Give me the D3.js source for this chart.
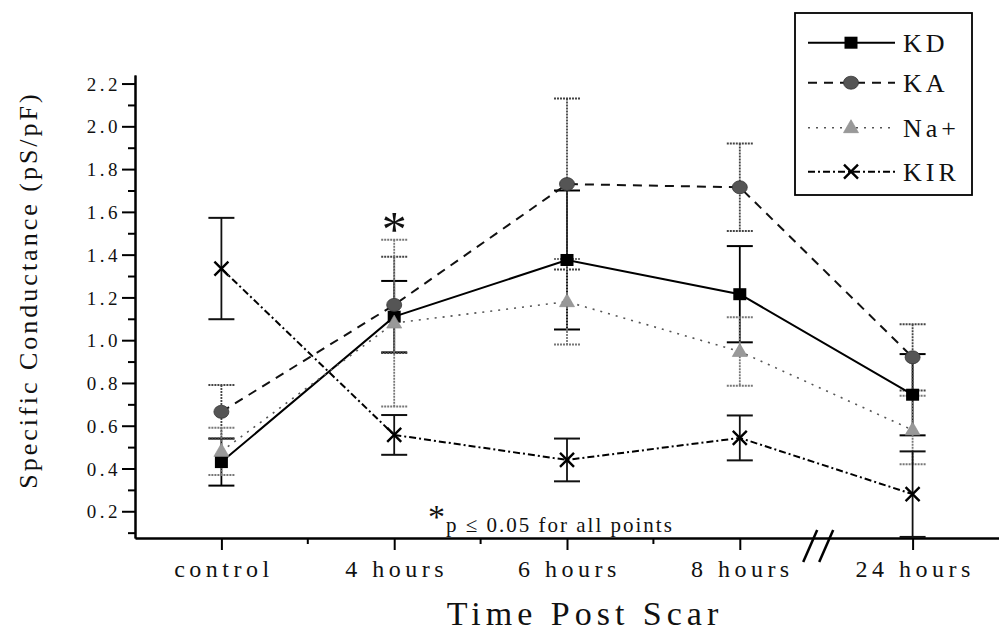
<!DOCTYPE html>
<html>
<head>
<meta charset="utf-8">
<script src="https://cdn.jsdelivr.net/npm/d3@7"></script>
<style>
  body { margin: 0; background: #fff; }
  svg text { font-family: "Liberation Serif", "DejaVu Serif", "Noto Serif", Times, serif; fill: #111; }
</style>
</head>
<body>
<svg id="chart" width="999" height="633"></svg>
<script>
// Data
const categories = ["control", "4 hours", "6 hours", "8 hours", "24 hours"];
const kdValues  = [0.43, 1.11, 1.375, 1.215, 0.745];
const kdErr     = [0.11, 0.167, 0.325, 0.225, 0.19];
const kaValues  = [0.665, 1.165, 1.73, 1.715, 0.92];
const kaErr     = [0.125, 0.225, 0.40, 0.205, 0.155];
const naValues  = [0.48, 1.08, 1.18, 0.947, 0.58];
const naErr     = [0.11, 0.39, 0.20, 0.16, 0.16];
const kirValues = [1.335, 0.557, 0.44, 0.543, 0.28];
const kirErr    = [0.237, 0.093, 0.10, 0.105, 0.20];
const yTicks = [0.2, 0.4, 0.6, 0.8, 1.0, 1.2, 1.4, 1.6, 1.8, 2.0, 2.2];
const yMinorTicks = [0.1, 0.3, 0.5, 0.7, 0.9, 1.1, 1.3, 1.5, 1.7, 1.9, 2.1];

const series = [
  { name: "KD",  values: kdValues,  err: kdErr,  dash: null,        lineColor: "#000", width: 2,   barColor: "#000", barDash: null,  marker: "square" },
  { name: "KA",  values: kaValues,  err: kaErr,  dash: "9,7",       lineColor: "#111", width: 2,   barColor: "#444", barDash: "2,1", marker: "circle" },
  { name: "Na+", values: naValues,  err: naErr,  dash: "2,6",       lineColor: "#555", width: 1.6, barColor: "#777", barDash: "2,1", marker: "triangle" },
  { name: "KIR", values: kirValues, err: kirErr, dash: "7,3,2,3",   lineColor: "#000", width: 2,   barColor: "#111", barDash: null,  marker: "cross" }
];

const serif = '"Liberation Serif", "DejaVu Serif", "Noto Serif", Times, serif';
const svg = d3.select("#chart");

// Scales
const x = d3.scalePoint().domain(categories).range([135, 999]).padding(0.5);
const y = d3.scaleLinear().domain([0.075, 2.24]).range([538, 75]);

// Y axis (major + minor ticks)
const yAxis = svg.append("g")
  .attr("transform", "translate(135,0)")
  .call(d3.axisLeft(y).tickValues(yTicks).tickSize(13).tickSizeOuter(0).tickPadding(4)
    .tickFormat(d3.format(".1f")));
svg.append("g")
  .attr("transform", "translate(135,0)")
  .call(d3.axisLeft(y).tickValues(yMinorTicks).tickSize(7).tickSizeOuter(0).tickFormat(""));
svg.selectAll("g .domain, g .tick line").attr("stroke", "#000").attr("stroke-width", 2);
yAxis.attr("font-family", serif);
yAxis.selectAll("text")
  .attr("font-size", 19)
  .attr("letter-spacing", 3.5)
  .attr("dy", "0.35em")
  .attr("dx", 3);

// X axis
const xAxis = svg.append("g")
  .attr("transform", "translate(0,538)")
  .call(d3.axisBottom(x).tickSize(12).tickSizeOuter(0).tickPadding(0));
xAxis.attr("font-family", serif);
xAxis.select(".domain").attr("stroke", "#000").attr("stroke-width", 2.5);
xAxis.selectAll(".tick line").attr("stroke", "#000").attr("stroke-width", 2);
xAxis.selectAll("text")
  .attr("y", 39)
  .attr("dy", 0)
  .attr("dx", 2)
  .attr("font-size", 24)
  .attr("letter-spacing", 4.5);

// minor x ticks between categories (none across the break)
const minorX = [];
for (let i = 0; i < categories.length - 2; i++) {
  minorX.push((x(categories[i]) + x(categories[i + 1])) / 2);
}
svg.append("g").selectAll("line").data(minorX).join("line")
  .attr("x1", d => d).attr("x2", d => d)
  .attr("y1", 538).attr("y2", 544)
  .attr("stroke", "#000").attr("stroke-width", 2);

// axis break marks
const breakX = (x(categories[3]) + x(categories[4])) / 2 - 8;
svg.append("g").selectAll("line").data([-8, 8]).join("line")
  .attr("x1", d => breakX + d - 7).attr("y1", 562)
  .attr("x2", d => breakX + d + 7).attr("y2", 530)
  .attr("stroke", "#000").attr("stroke-width", 2.5);

// Axis titles
svg.append("text")
  .attr("transform", "translate(37,290) rotate(-90)")
  .attr("text-anchor", "middle")
  .attr("font-size", 26)
  .attr("letter-spacing", 3)
  .text("Specific Conductance (pS/pF)");

svg.append("text")
  .attr("x", 585).attr("y", 625)
  .attr("text-anchor", "middle")
  .attr("font-size", 34)
  .attr("letter-spacing", 5)
  .text("Time Post Scar");

// Error bars
const capHalf = 13;
series.forEach(s => {
  const g = svg.append("g").attr("class", "err");
  const pts = categories.map((c, i) => ({ c, v: s.values[i], e: s.err[i] }));
  g.selectAll("line.v").data(pts).join("line").attr("class", "v")
    .attr("x1", d => x(d.c)).attr("x2", d => x(d.c))
    .attr("y1", d => y(Math.min(d.v + d.e, 2.24)))
    .attr("y2", d => y(Math.max(d.v - d.e, 0.075)))
    .attr("stroke", s.barColor).attr("stroke-width", 1.8)
    .attr("stroke-dasharray", s.barDash);
  const caps = [];
  pts.forEach(d => {
    if (d.v + d.e <= 2.24) caps.push({ c: d.c, v: d.v + d.e });
    if (d.v - d.e >= 0.075) caps.push({ c: d.c, v: d.v - d.e });
  });
  g.selectAll("line.cap").data(caps).join("line").attr("class", "cap")
    .attr("x1", d => x(d.c) - capHalf).attr("x2", d => x(d.c) + capHalf)
    .attr("y1", d => y(d.v)).attr("y2", d => y(d.v))
    .attr("stroke", s.barColor).attr("stroke-width", 2)
    .attr("stroke-dasharray", s.barDash);
});

// Lines
const line = d3.line()
  .x((d, i) => x(categories[i]))
  .y(d => y(d));

series.forEach(s => {
  svg.append("path")
    .datum(s.values)
    .attr("d", line)
    .attr("fill", "none")
    .attr("stroke", s.lineColor)
    .attr("stroke-width", s.width)
    .attr("stroke-dasharray", s.dash);
});

// Markers
function drawMarker(g, type, cx, cy) {
  if (type === "square") {
    g.append("rect").attr("x", cx - 6.5).attr("y", cy - 6).attr("width", 13).attr("height", 12)
      .attr("fill", "#000");
  } else if (type === "circle") {
    g.append("ellipse").attr("cx", cx).attr("cy", cy).attr("rx", 7.5).attr("ry", 6.5)
      .attr("fill", "#555").attr("stroke", "#333").attr("stroke-width", 0.8);
  } else if (type === "triangle") {
    g.append("path").attr("d", `M${cx},${cy - 8} L${cx + 7.5},${cy + 5} L${cx - 7.5},${cy + 5} Z`)
      .attr("fill", "#999").attr("stroke", "#888").attr("stroke-width", 0.6);
  } else if (type === "cross") {
    g.append("path").attr("d", `M${cx - 7},${cy - 7} L${cx + 7},${cy + 7} M${cx + 7},${cy - 7} L${cx - 7},${cy + 7}`)
      .attr("stroke", "#000").attr("stroke-width", 2.4).attr("fill", "none");
  }
}

series.forEach(s => {
  const g = svg.append("g");
  s.values.forEach((v, i) => drawMarker(g, s.marker, x(categories[i]), y(v)));
});

// Significance markers
svg.append("text")
  .attr("x", x(categories[1])).attr("y", 246)
  .attr("text-anchor", "middle")
  .attr("font-size", 50)
  .text("*");

const note = svg.append("text").attr("x", 428).attr("y", 532);
note.append("tspan").attr("font-size", 34).attr("dy", -4).text("*");
note.append("tspan").attr("font-size", 21).attr("dy", 4).attr("dx", 1).attr("letter-spacing", 2)
  .text("p ≤ 0.05 for all points");

// Legend
const legendRows = [42.7, 82.7, 127.7, 171.7];
const legend = svg.append("g");
legend.append("rect")
  .attr("x", 795).attr("y", 13).attr("width", 177).attr("height", 182)
  .attr("fill", "#fff").attr("stroke", "#000").attr("stroke-width", 1.8);
series.forEach((s, i) => {
  const ly = legendRows[i];
  legend.append("line")
    .attr("x1", 808).attr("x2", 895).attr("y1", ly).attr("y2", ly)
    .attr("stroke", s.lineColor).attr("stroke-width", s.width)
    .attr("stroke-dasharray", s.dash);
  drawMarker(legend, s.marker, 851, ly);
  legend.append("text")
    .attr("x", 903).attr("y", ly + 9)
    .attr("font-size", 26)
    .attr("letter-spacing", 4)
    .text(s.name);
});
</script>
</body>
</html>
